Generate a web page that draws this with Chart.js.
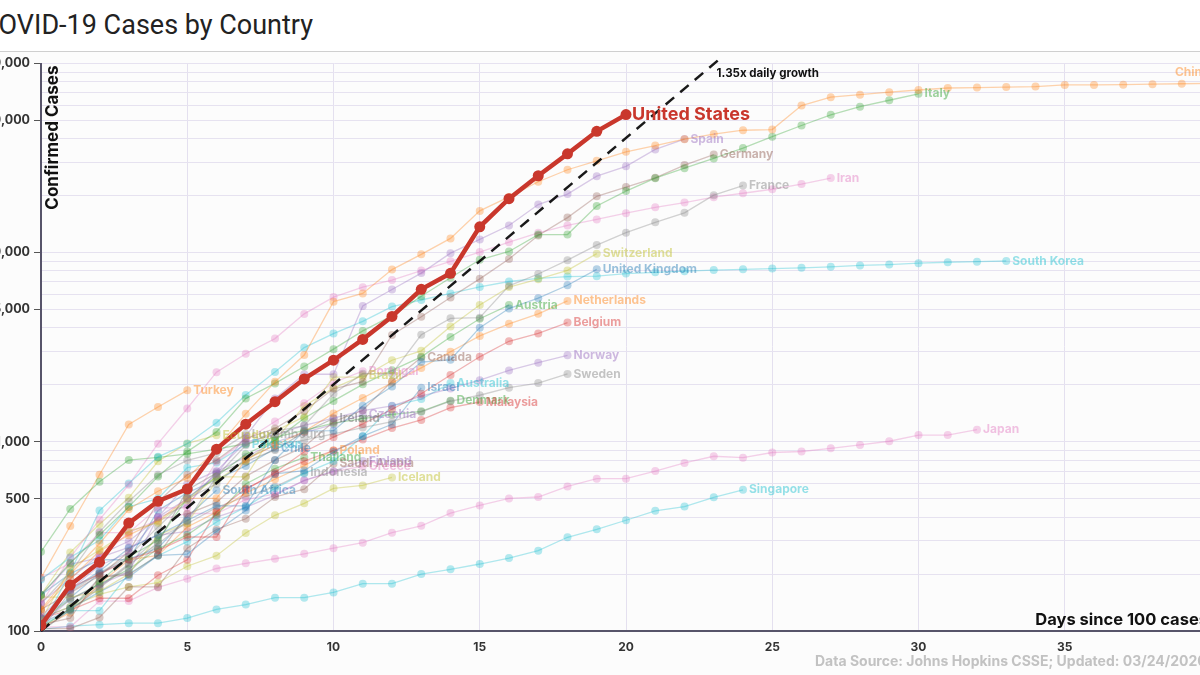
<!DOCTYPE html>
<html>
<head>
<meta charset="utf-8">
<script src="https://cdn.jsdelivr.net/npm/chart.js@4.4.1/dist/chart.umd.min.js"></script>
<style>
html, body { margin: 0; padding: 0; width: 1200px; height: 675px; overflow: hidden; background: #fff; }
#title { position: absolute; left: -19px; top: 9px; font: 27px Roboto, sans-serif; color: #222; white-space: nowrap; }
#rule { position: absolute; left: 0; top: 51px; width: 1200px; height: 1px; background: #cfcfcf; }
#wrap { position: absolute; left: -40px; top: 52px; width: 1260px; height: 623px; background: #fcfcfc; }
</style>
</head>
<body>
<div id="title">COVID-19 Cases by Country</div>
<div id="rule"></div>
<div id="wrap"><canvas id="chart" width="1260" height="623"></canvas></div>
<script>
// confirmed cases, one value per day since the 100th case
const united_states = [107, 175, 231, 372, 485, 563, 915, 1240, 1630, 2150, 2700, 3480, 4600, 6400, 7780, 13700, 19300, 25500, 33300, 43800, 53700];
const china = [130, 200, 290, 440, 548, 643, 920, 1406, 2075, 2877, 5509, 6087, 8141, 9802, 11891, 16630, 19716, 23707, 27440, 30587, 34110, 36814, 39829, 42354, 44386, 44759, 59895, 66358, 68413, 70513, 72434, 74211, 74619, 75077, 75550, 77001, 77022, 77241, 77754, 78166, 78600, 78928];
const italy = [155, 229, 322, 453, 655, 888, 1128, 1694, 2036, 2502, 3089, 3858, 4636, 5883, 7375, 9172, 10149, 12462, 12462, 17660, 21157, 24747, 27980, 31506, 35713, 41035, 47021, 53578, 59138, 63927, 69176];
const spain = [120, 165, 222, 259, 400, 500, 673, 1073, 1695, 2277, 2277, 5232, 6391, 7798, 9942, 11748, 13910, 17963, 20410, 25374, 28603, 35136, 39885];
const germany = [130, 159, 196, 262, 482, 670, 799, 1040, 1176, 1457, 1908, 2078, 3675, 4585, 5795, 7272, 9257, 12327, 15320, 19848, 22213, 24873, 29056, 32986];
const france = [100, 130, 191, 204, 288, 380, 656, 959, 1136, 1219, 1794, 2293, 2293, 3681, 4496, 4532, 6683, 7715, 9124, 10970, 12758, 14463, 16243, 20123, 22622];
const iran = [139, 245, 388, 593, 978, 1501, 2336, 2922, 3513, 4747, 5823, 6566, 7161, 8042, 9000, 10075, 11364, 12729, 13938, 14991, 16169, 17361, 18407, 19644, 20610, 21638, 23049, 24811];
const switzerland = [114, 214, 268, 337, 374, 491, 652, 652, 1139, 1359, 2200, 2200, 2700, 3028, 4075, 5294, 6575, 7245, 8060, 9877];
const united_kingdom = [116, 164, 207, 274, 322, 384, 459, 459, 802, 1144, 1145, 1551, 1960, 2642, 2716, 4014, 5067, 5745, 6726, 8164];
const south_korea = [104, 204, 433, 602, 833, 977, 1261, 1766, 2337, 3150, 3736, 4335, 5186, 5621, 6088, 6593, 7041, 7314, 7478, 7513, 7755, 7869, 7979, 8086, 8162, 8236, 8320, 8413, 8565, 8652, 8799, 8897, 8961, 9037];
const netherlands = [128, 188, 265, 321, 382, 503, 503, 804, 959, 1135, 1413, 1705, 2051, 2460, 2994, 3631, 4204, 4749, 5560];
const austria = [104, 131, 182, 246, 302, 504, 655, 860, 1018, 1332, 1646, 2013, 2388, 2814, 3582, 4474, 5283];
const belgium = [109, 169, 200, 239, 267, 314, 314, 559, 689, 886, 1058, 1243, 1486, 1795, 2257, 2815, 3401, 3743, 4269];
const norway = [108, 147, 176, 205, 400, 598, 702, 996, 1090, 1221, 1333, 1463, 1550, 1746, 1914, 2118, 2385, 2621, 2866];
const sweden = [101, 161, 203, 248, 355, 500, 599, 814, 961, 1022, 1103, 1190, 1279, 1439, 1639, 1763, 1934, 2046, 2286];
const canada = [108, 117, 193, 198, 252, 415, 478, 657, 800, 943, 1277, 1469, 2088, 2792];
const portugal = [112, 169, 245, 331, 448, 448, 785, 1020, 1280, 1600, 2060, 2362];
const brazil = [151, 151, 162, 200, 321, 372, 621, 793, 1021, 1546, 1924, 2247];
const israel = [109, 131, 161, 193, 251, 255, 337, 433, 677, 705, 883, 1071, 1238, 1930];
const australia = [107, 128, 128, 200, 250, 297, 377, 452, 568, 681, 791, 1071, 1549, 1682, 2044];
const denmark = [262, 442, 615, 801, 827, 864, 914, 977, 1057, 1151, 1255, 1326, 1395, 1450, 1650];
const malaysia = [117, 129, 149, 149, 197, 238, 428, 566, 673, 790, 900, 1030, 1183, 1306, 1518, 1624];
const ireland = [100, 129, 169, 223, 292, 557, 683, 785, 906, 1125, 1329];
const czechia = [141, 189, 253, 298, 396, 464, 694, 833, 995, 1120, 1236, 1394];
const luxembourg = [140, 203, 335, 484, 670, 798, 875, 1099];
const pakistan = [187, 245, 302, 454, 501, 730, 776, 972];
const chile = [155, 201, 238, 238, 434, 537, 632, 746, 922];
const thailand = [114, 147, 177, 212, 272, 322, 411, 599, 721, 827];
const poland = [104, 125, 177, 238, 251, 355, 425, 536, 634, 749, 901];
const saudi_arabia = [103, 103, 118, 171, 171, 274, 344, 392, 511, 562, 767];
const finland = [155, 225, 244, 277, 321, 336, 400, 450, 523, 626, 700, 792];
const greece = [190, 228, 331, 331, 387, 418, 418, 495, 530, 624, 695, 743];
const indonesia = [117, 134, 172, 227, 311, 369, 450, 514, 579, 686];
const iceland = [117, 134, 156, 171, 180, 220, 250, 330, 409, 473, 568, 588, 648];
const turkey = [191, 359, 670, 1236, 1529, 1872];
const south_africa = [116, 150, 202, 240, 274, 402, 554];
const ecuador = [155, 260, 367, 506, 789, 981, 1082];
const japan = [105, 105, 144, 144, 170, 189, 214, 228, 241, 256, 274, 293, 331, 360, 420, 461, 502, 511, 581, 639, 639, 701, 773, 839, 825, 878, 889, 924, 963, 1007, 1086, 1086, 1160];
const singapore = [102, 106, 108, 110, 110, 117, 130, 138, 150, 150, 160, 178, 178, 200, 212, 226, 243, 266, 313, 345, 385, 432, 455, 509, 558];

// 1.35x daily growth reference line
const growth_days = [0, 23.2];
const growth_cases = [100, 105600];

const y_labeled = [100, 500, 1000, 5000, 10000, 50000, 100000];
const y_grid = [100, 200, 300, 400, 500, 600, 700, 800, 900, 1000, 2000, 3000, 4000, 5000, 6000, 7000, 8000, 9000, 10000, 20000, 30000, 40000, 50000, 60000, 70000, 80000, 90000, 100000];

const countries = [
    ['China', china, 'orange'], ['Italy', italy, 'green'], ['Spain', spain, 'purple'],
    ['Germany', germany, 'brown'], ['France', france, 'gray'], ['Iran', iran, 'pink'],
    ['Switzerland', switzerland, 'olive'], ['United Kingdom', united_kingdom, 'blue'],
    ['South Korea', south_korea, 'cyan'], ['Netherlands', netherlands, 'orange'],
    ['Austria', austria, 'green'], ['Belgium', belgium, 'red'], ['Norway', norway, 'purple'],
    ['Sweden', sweden, 'gray'], ['Canada', canada, 'brown'], ['Portugal', portugal, 'pink'],
    ['Brazil', brazil, 'olive'], ['Israel', israel, 'blue'], ['Australia', australia, 'cyan'],
    ['Denmark', denmark, 'green'], ['Malaysia', malaysia, 'red'], ['Ireland', ireland, 'darkgray'],
    ['Czechia', czechia, 'purple'], ['Luxembourg', luxembourg, 'gray'], ['Pakistan', pakistan, 'cyan'],
    ['Chile', chile, 'blue'], ['Thailand', thailand, 'green'], ['Poland', poland, 'orange'],
    ['Saudi Arabia', saudi_arabia, 'brown'], ['Finland', finland, 'purple'], ['Greece', greece, 'pink'],
    ['Indonesia', indonesia, 'gray'], ['Iceland', iceland, 'olive'], ['Turkey', turkey, 'orange'],
    ['South Africa', south_africa, 'blue'], ['Ecuador', ecuador, 'olive'], ['Japan', japan, 'pink'],
    ['Singapore', singapore, 'cyan']
];

const palette = {
    blue: '31,119,180', orange: '255,127,14', green: '44,160,44', red: '214,39,40',
    purple: '148,103,189', brown: '140,86,75', pink: '227,119,194', gray: '127,127,127',
    darkgray: '90,90,90', olive: '188,189,34', cyan: '23,190,207'
};

const FONT = 'Inter, "Open Sans", sans-serif';

function toPoints(values){
    return values.map((v, i) => ({x: i, y: v}));
}

const datasets = [];

datasets.push({
    label: 'United States',
    data: toPoints(united_states),
    borderColor: '#c9372c',
    backgroundColor: '#c9372c',
    borderWidth: 4.5,
    pointRadius: 5.5,
    pointBorderWidth: 0,
    order: 0,
    endLabel: {text: 'United States', font: 'bold 18px ' + FONT, color: '#c9372c', dx: 6, dy: 0}
});

datasets.push({
    label: 'growth',
    data: growth_days.map((d, i) => ({x: d, y: growth_cases[i]})),
    borderColor: 'rgba(0,0,0,0.9)',
    borderWidth: 2.5,
    borderDash: [11, 8],
    pointRadius: 0,
    clip: false,
    order: 1,
    endLabel: {text: '1.35x daily growth', font: 'bold 11.5px ' + FONT, color: '#111', dx: -3, dy: 15}
});

countries.forEach(([name, values, col]) => {
    const rgb = palette[col];
    datasets.push({
        label: name,
        data: toPoints(values),
        borderColor: 'rgba(' + rgb + ',0.34)',
        backgroundColor: 'rgba(' + rgb + ',0.32)',
        borderWidth: 1.3,
        pointRadius: 4,
        pointBorderWidth: 0,
        order: 2,
        endLabel: {text: name, font: 'bold 12px ' + FONT, color: 'rgba(' + rgb + ',0.45)', dx: 6, dy: 0}
    });
});

const endLabels = {
    id: 'endLabels',
    afterDatasetsDraw(chart){
        const ctx = chart.ctx;
        const area = chart.chartArea;
        chart.data.datasets.forEach((ds, i) => {
            if (!ds.endLabel) return;
            const meta = chart.getDatasetMeta(i);
            const pt = meta.data[meta.data.length - 1];
            ctx.save();
            ctx.font = ds.endLabel.font;
            ctx.fillStyle = ds.endLabel.color;
            ctx.textBaseline = 'middle';
            const w = ctx.measureText(ds.endLabel.text).width;
            let x = pt.x + ds.endLabel.dx;
            let y = pt.y + ds.endLabel.dy;
            if (x + w > area.right) {
                x = area.right - w - 2;
                y -= 11;
            }
            ctx.fillText(ds.endLabel.text, x, y);
            ctx.restore();
        });
    }
};

const axisTexts = {
    id: 'axisTexts',
    afterDraw(chart){
        const ctx = chart.ctx;
        const area = chart.chartArea;
        ctx.save();
        ctx.fillStyle = '#111';
        ctx.font = 'bold 16.5px ' + FONT;
        ctx.textBaseline = 'middle';
        ctx.textAlign = 'right';
        ctx.fillText('Days since 100 cases', area.right - 3, area.bottom - 11);
        ctx.translate(area.left + 12, area.top + 2);
        ctx.rotate(-Math.PI / 2);
        ctx.font = 'bold 17px ' + FONT;
        ctx.fillText('Confirmed Cases', 0, 0);
        ctx.restore();

        ctx.save();
        ctx.fillStyle = '#c2c2c2';
        ctx.font = 'bold 14px ' + FONT;
        ctx.textBaseline = 'middle';
        ctx.textAlign = 'left';
        ctx.fillText('Data Source: Johns Hopkins CSSE; Updated: 03/24/2020', 855, 610);
        ctx.restore();
    }
};

new Chart(document.getElementById('chart'), {
    type: 'line',
    data: {datasets: datasets},
    options: {
        responsive: false,
        animation: false,
        layout: {padding: {top: 11, right: 7, left: 0, bottom: 0}},
        plugins: {legend: {display: false}, tooltip: {enabled: false}},
        elements: {line: {tension: 0}},
        scales: {
            x: {
                type: 'linear',
                min: 0,
                max: 40,
                afterFit: (scale) => { scale.height = 44; },
                grid: {color: '#e4e0ef', drawTicks: false},
                border: {color: '#57546a', width: 2},
                ticks: {
                    stepSize: 5,
                    padding: 9,
                    color: '#333',
                    font: {family: FONT, size: 12, weight: 'bold'},
                    callback: (v) => v === 40 ? '' : v
                }
            },
            y: {
                type: 'logarithmic',
                min: 100,
                max: 100000,
                afterFit: (scale) => { scale.width = 81; },
                afterBuildTicks: (scale) => { scale.ticks = y_grid.map(v => ({value: v})); },
                grid: {
                    color: '#e6e2f0',
                    tickLength: 7,
                    tickColor: (c) => (c.tick && y_labeled.includes(c.tick.value)) ? '#555' : 'rgba(0,0,0,0)'
                },
                border: {color: '#57546a', width: 2},
                ticks: {
                    autoSkip: false,
                    padding: 4,
                    color: '#333',
                    font: {family: FONT, size: 12.5, weight: 'bold'},
                    callback: (v) => y_labeled.includes(v) ? v.toLocaleString('en-US') : ''
                }
            }
        }
    },
    plugins: [endLabels, axisTexts]
});
</script>
</body>
</html>
